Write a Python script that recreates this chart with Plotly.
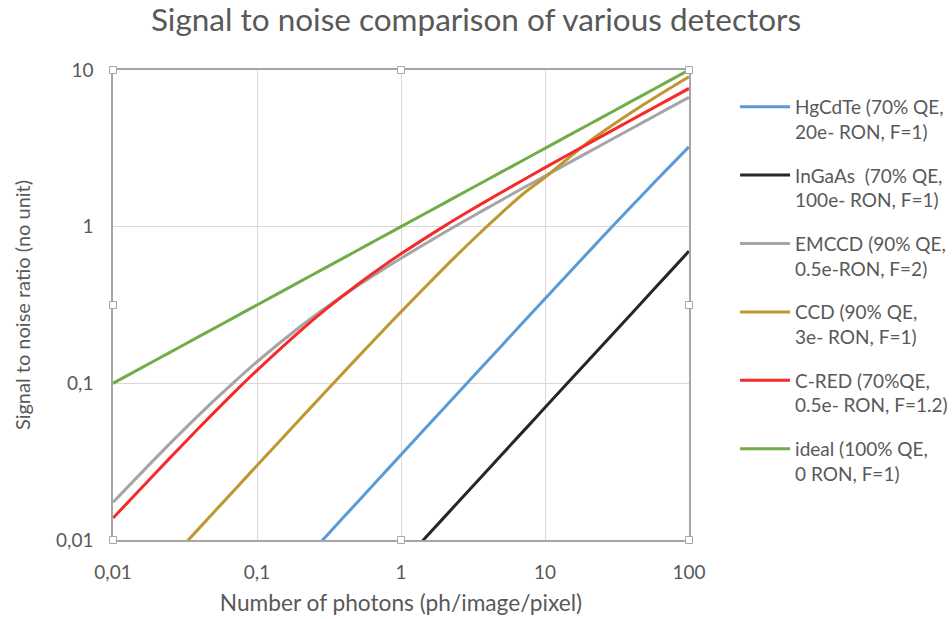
import plotly.graph_objects as go

# Number of photons (ph/image/pixel)
photons = [0.01, 0.02, 0.03, 0.05, 0.07, 0.1, 0.2, 0.3, 0.5, 0.7, 1,
           2, 3, 5, 7, 10, 20, 30, 50, 70, 100]

# Signal to noise ratio
snr_hgcdte = [0.00035, 0.0007, 0.00105, 0.00175, 0.00245, 0.0035, 0.007, 0.0105, 0.0175, 0.0245, 0.035,
              0.0699, 0.1047, 0.174, 0.2435, 0.347, 0.688, 1.0235, 1.678, 2.312, 3.229]
snr_ingaas = [0.00007, 0.00014, 0.00021, 0.00035, 0.00049, 0.0007, 0.0014, 0.0021, 0.0035, 0.0049, 0.007,
              0.014, 0.021, 0.035, 0.049, 0.070, 0.140, 0.2098, 0.349, 0.4888, 0.698]
snr_emccd = [0.0174, 0.0337, 0.0490, 0.0772, 0.1027, 0.1373, 0.2305, 0.3038, 0.4196, 0.5127, 0.6286,
             0.9174, 1.136, 1.480, 1.7575, 2.107, 2.990, 3.666, 4.737, 5.607, 6.704]
snr_ccd = [0.0030, 0.0060, 0.00899, 0.0150, 0.0209, 0.0299, 0.0594, 0.0887, 0.1464, 0.2030, 0.2860,
           0.5477, 0.7894, 1.2247, 1.6107, 2.065, 3.464, 4.5, 6.124, 7.425, 9.045]
snr_cred = [0.0138, 0.0271, 0.0400, 0.0648, 0.0882, 0.1211, 0.2165, 0.2964, 0.4276, 0.5353, 0.6705,
            1.008, 1.262, 1.659, 1.979, 2.380, 3.391, 4.163, 5.385, 6.377, 7.626]
snr_ideal = [0.1, 0.1414, 0.1732, 0.2236, 0.2646, 0.3162, 0.4472, 0.5477, 0.7071, 0.8367, 1.0,
             1.414, 1.732, 2.236, 2.646, 3.162, 4.472, 5.477, 7.071, 8.367, 10.0]

series_names = [
    "HgCdTe (70% QE,<br>20e- RON, F=1)",
    "InGaAs  (70% QE,<br>100e- RON, F=1)",
    "EMCCD (90% QE,<br>0.5e-RON, F=2)",
    "CCD (90% QE,<br>3e- RON, F=1)",
    "C-RED (70%QE,<br>0.5e- RON, F=1.2)",
    "ideal (100% QE,<br>0 RON, F=1)",
]
series_values = [snr_hgcdte, snr_ingaas, snr_emccd, snr_ccd, snr_cred, snr_ideal]
series_colors = ["#5b9bd5", "#262626", "#a5a5a5", "#c0962f", "#f52a2a", "#70ad47"]

x_tickvals = [0.01, 0.1, 1, 10, 100]
x_ticktext = ["0,01", "0,1", "1", "10", "100"]
y_tickvals = [0.01, 0.1, 1, 10]
y_ticktext = ["0,01", "0,1", "1", "10"]

TXT = "#595959"
FONT = "Lato"

fig = go.Figure()
for i, (name, vals, col) in enumerate(zip(series_names, series_values, series_colors)):
    fig.add_trace(go.Scatter(
        x=photons, y=vals, name=name, mode="lines",
        line=dict(color=col, width=3, shape="spline", smoothing=0.8),
        legendgroup=f"g{i}",
    ))

# Excel-like selection handles around the plot area
for hx, hy in [(0, 0), (0.5, 0), (1, 0), (0, 0.5), (1, 0.5), (0, 1), (0.5, 1), (1, 1)]:
    fig.add_shape(
        type="rect", xref="x domain", yref="y domain",
        xsizemode="pixel", ysizemode="pixel", xanchor=hx, yanchor=hy,
        x0=-3.5, x1=3.5, y0=-3.5, y1=3.5,
        line=dict(color="#a6a6a6", width=1), fillcolor="white", layer="above",
    )

fig.update_layout(
    width=952, height=619,
    margin=dict(l=113, r=263, t=70, b=79, autoexpand=False),
    paper_bgcolor="white", plot_bgcolor="white",
    font=dict(family=FONT, color=TXT, size=19),
    title=dict(text="Signal to noise comparison of various detectors",
               x=0.5, xref="container", xanchor="center", y=0.968, yanchor="middle",
               font=dict(size=31.5, color=TXT, family=FONT)),
    showlegend=True,
    legend=dict(x=1.08, xanchor="left", y=0.962, yanchor="top",
                font=dict(size=19, color=TXT, family=FONT),
                valign="top", tracegroupgap=16, traceorder="grouped",
                itemwidth=50,
                bgcolor="rgba(0,0,0,0)"),
)
fig.update_xaxes(
    type="log", range=[-2, 2],
    tickvals=x_tickvals, ticktext=x_ticktext,
    showgrid=True, gridcolor="#d9d9d9", gridwidth=1,
    showline=True, linecolor="#a6a6a6", linewidth=1.5, mirror=True,
    ticks="", ticklabelstandoff=14, zeroline=False,
    tickfont=dict(size=19),
    title=dict(text="Number of photons (ph/image/pixel)", standoff=14,
               font=dict(size=22.7, color=TXT, family=FONT)),
)
fig.update_yaxes(
    type="log", range=[-2, 1],
    tickvals=y_tickvals, ticktext=y_ticktext,
    showgrid=True, gridcolor="#d9d9d9", gridwidth=1,
    showline=True, linecolor="#a6a6a6", linewidth=1.5, mirror=True,
    ticks="", ticklabelstandoff=14, zeroline=False,
    tickfont=dict(size=19),
    title=dict(text="Signal to noise ratio (no unit)", standoff=20,
               font=dict(size=20, color=TXT, family=FONT)),
)

fig.write_html("out.html")
